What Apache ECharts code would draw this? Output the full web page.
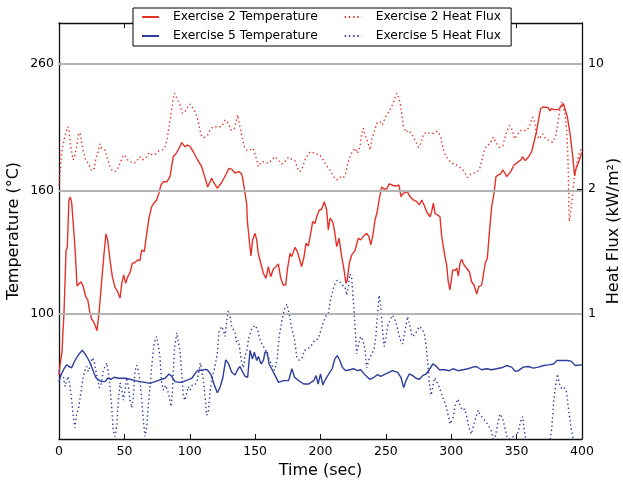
<!DOCTYPE html>
<html><head><meta charset="utf-8">
<script src="https://cdn.jsdelivr.net/npm/echarts@6/dist/echarts.min.js"></script>
<style>html,body{margin:0;padding:0;background:#fff}#c{width:623px;height:484px}</style>
</head><body><div id="c"></div>
<script>
// ---- data ----
const timeTicks = [0, 50, 100, 150, 200, 250, 300, 350, 400];
const tempTicks = [100, 160, 260];
const fluxTicks = [1, 2, 10];

const ex2TempTime = [0,1.1,2.3,3.1,3.8,5.4,6.3,7.6,8.6,9.7,10.7,12.2,13.8,15.3,16.8,18.6,20.4,22.0,23.5,25.0,26.5,27.5,29.1,30.8,32.7,34.2,35.2,35.9,37.2,39.0,40.8,42.8,44.9,46.7,48.0,49.5,51.0,52.5,54.3,56.1,58.1,60.2,61.9,63.3,65.2,67.1,68.8,70.9,72.9,74.7,76.5,78.0,79.8,82.6,84.9,87.4,89.3,91.2,93.8,96.4,98.4,100.2,102.7,105.3,109.1,112.2,113.7,115.0,116.8,118.5,121.1,124.4,127.5,130.0,132.1,134.6,137.7,139.7,140.7,141.9,143.6,144.0,145.5,146.8,148.1,149.9,151.2,152.4,154.3,156.3,158.3,160.1,161.9,163.9,166.0,167.7,169.6,171.5,173.4,174.6,176.7,178.0,180.5,182.3,183.8,185.6,187.4,188.9,190.7,192.5,194.0,195.8,197.1,199.1,200.9,202.9,204.7,206.0,207.3,209.3,210.6,212.4,214.2,216.2,218.0,219.5,220.5,222.0,223.9,226.4,228.9,230.7,232.7,235.3,237.1,238.4,239.9,241.7,243.4,245.0,246.8,248.6,250.6,252.6,255.7,258.3,260.0,261.6,263.3,266.4,268.4,271.0,273.6,275.6,277.4,279.2,281.2,282.4,283.8,285.0,286.3,287.6,289.3,291.4,292.7,295.2,296.5,297.7,299.0,301.1,302.9,304.2,305.4,306.7,308.0,309.8,311.8,313.8,315.6,317.4,319.5,321.0,323.3,324.5,326.0,327.6,329.1,330.9,332.7,334.2,336.0,337.8,339.4,341.1,342.4,345.5,348.0,350.5,353.1,354.6,356.4,358.9,361.5,362.5,365.1,368.3,370.2,374.1,375.4,376.7,378.5,381.9,383.7,385.8,387.0,388.8,390.9,393.0,394.3,395.3,397.3,399.9];
const ex2Temp = [79.2,83.2,86.5,94.1,100,127.7,128.7,154.6,156.4,153.0,153.0,129.3,111.3,111.0,113.1,111.0,106.8,105.5,100.9,98.0,97.1,95.9,93.8,101.5,113.9,124.2,124.8,135.8,132.7,122.9,115.3,110.7,108.9,106.2,112.4,116.1,112.4,115.1,117.1,121.4,121.7,122.9,122.6,127.7,126.9,136.1,144.2,150.7,153.0,154.6,159.0,163.7,165.8,165.8,169.0,182.4,184.3,187.2,192.5,189.5,190.8,189.5,185.9,181.3,175.6,166.9,162.5,162.7,168.0,165.0,161.7,165.3,170.1,174.5,173.9,171.4,172.3,170.8,166.9,160.6,151.7,143.2,132.7,124.8,132.7,136.1,132.7,126.1,121.4,116.8,114.6,119.8,115.3,118.6,119.8,121.1,114.6,111.7,111.7,118.3,126.1,124.5,129.0,126.9,123.7,119.8,124.5,131.0,129.7,136.1,142.3,141.4,145.0,148.8,149.2,153.6,148.8,137.9,144.2,142.3,137.9,129.3,133.6,124.5,118.3,112.4,113.9,121.4,125.3,127.4,133.6,132.7,134.4,136.1,134.4,130.2,134.4,143.2,147.8,155.6,162.5,161.2,161.2,164.4,163.4,163.1,163.7,156.6,158.6,159.6,156.6,154.6,153.6,151.7,154.6,151.7,147.8,148.8,145.0,147.8,152.7,146.9,146.0,145.0,134.4,124.5,120.6,113.1,109.6,118.3,118.0,119.1,115.6,121.4,123.3,120.6,119.1,117.5,113.1,111.7,107.9,111.0,111.7,111.0,121.4,123.7,136.1,150.7,158.6,169.0,170.1,170.8,173.4,171.2,169.0,172.3,176.7,178.3,180.1,182.4,179.7,182.0,185.9,185.7,200.3,219.3,220.6,220.1,217.3,219.3,218.4,218.4,220.6,223.5,222.0,212.3,199.0,181.9,169.5,173.9,178.4,185.4];

const ex5TempTime = [0,1.5,4.1,5.9,7.6,9.7,11.7,14.3,17.8,20.4,22.4,24.5,26.2,28.1,30.1,32.7,35.2,37.2,39.8,42.3,45.4,48.0,51.0,54.3,58.1,62.0,65.8,69.6,73.4,77.2,81.1,84.1,86.2,88.7,91.8,95.1,98.4,101.5,105.3,107.1,109.1,111.7,113.7,116.3,118.8,121.1,123.1,125.2,127.5,129.5,132.1,134.6,136.7,138.4,140.2,142.3,144.3,146.1,147.9,149.4,151.2,152.5,154.6,156.3,157.6,159.2,160.7,164.1,167.9,171.8,175.6,178.1,180.2,183.3,187.2,191.0,194.8,196.6,198.2,200.0,201.8,203.8,206.4,208.9,211.0,212.8,214.8,216.7,219.2,222.3,225.6,228.1,230.7,234.6,237.6,241.0,243.6,246.1,249.9,255.1,259.0,261.5,263.6,265.4,267.9,270.5,273.0,275.6,278.2,280.8,283.3,285.9,288.0,291.0,294.8,298.7,301.3,305.2,309.0,312.8,316.6,319.2,323.1,327.0,330.8,334.6,338.4,342.3,346.2,348.8,351.3,355.1,359.0,362.8,366.7,370.6,374.4,378.2,380.8,384.6,388.5,391.6,394.9,400];
const ex5Temp = [77.2,79.2,81.3,82.3,81.8,81.4,83.3,85.2,87.1,85.5,84.1,82.3,80.3,78.5,77.7,77.2,77.2,78.2,77.9,78.5,78.2,78.2,78.2,77.9,77.5,77.2,77.0,76.7,77.2,77.7,78.2,79.5,78.8,77.2,77.0,77.2,77.7,78.2,80.3,80.7,80.5,80.9,80.7,79.2,76.2,74.0,75.5,78.2,83.9,82.8,80.0,79.2,80.9,81.8,80.3,78.8,78.5,87.0,84.2,86.4,83.7,85.0,82.6,83.7,86.4,86.4,82.6,80.0,77.0,77.5,77.5,81.1,78.5,77.5,76.5,76.5,77.5,79.0,76.5,79.5,76.2,77.9,79.5,81.1,84.2,85.3,83.7,81.6,80.5,80.8,81.1,80.5,80.8,79.0,77.9,78.5,79.3,78.8,79.5,80.5,80.0,78.5,75.5,77.5,79.5,79.0,78.2,77.9,79.0,79.5,80.8,82.6,82.1,80.8,80.8,80.5,81.1,80.5,80.8,81.1,81.6,81.8,80.8,81.1,80.8,81.1,81.4,82.1,81.6,80.3,80.5,81.6,81.8,81.3,81.6,82.1,82.3,82.6,83.7,83.7,83.7,83.5,82.1,82.3];

const ex2FluxTime = [0,0.8,2.1,3.3,5.1,6.7,7.6,8.4,9.7,10.9,12.2,13.5,14.8,16.1,17.4,18.6,20.4,22.4,25.0,27.0,28.1,29.6,31.4,32.7,35.2,37.2,39.0,40.8,42.8,44.9,46.7,48.4,50.5,52.5,55.1,57.6,60.2,61.9,63.7,66.3,68.8,71.4,74.0,76.5,79.0,81.1,82.8,84.4,85.7,87.0,88.2,89.3,90.8,92.5,94.3,96.4,98.4,100.2,101.9,104.0,106.1,107.8,109.1,111.1,113.7,115.5,118.0,121.4,124.4,127.0,129.5,131.5,134.1,136.7,138.4,140.2,141.7,143.6,146.1,148.6,150.4,152.4,155.0,157.6,160.1,162.7,165.2,167.7,170.3,172.8,175.4,178.0,180.5,182.6,184.3,186.1,188.1,190.2,192.0,194.5,197.1,199.6,202.1,204.7,207.3,209.8,212.4,214.9,217.4,219.3,220.8,222.6,224.3,226.4,228.1,230.2,231.5,232.7,234.0,236.1,237.9,239.2,241.1,243.0,245.5,247.3,248.8,250.6,252.4,254.5,256.4,258.3,259.5,260.8,262.1,263.4,265.2,267.3,269.8,272.4,275.0,277.1,278.9,281.5,284.1,286.6,289.2,291.8,293.5,295.6,298.2,300.7,303.3,306.4,309.7,312.3,314.9,318.2,321.4,323.4,325.2,327.0,329.6,332.2,334.2,336.8,339.4,341.9,344.5,346.6,348.4,350.2,352.8,355.3,357.9,360.0,362.1,363.8,365.1,367.2,369.8,372.3,374.9,377.5,380.0,381.9,383.2,384.5,385.8,387.0,388.3,389.3,390.3,392.0,393.9,396.2,398.1,400];
const ex2Flux = [2.11,2.49,3.23,3.60,4.10,4.46,4.28,3.68,3.23,2.91,3.10,3.45,4.01,4.13,3.60,3.23,2.91,2.78,2.53,2.61,2.93,3.17,3.57,3.38,3.30,2.93,2.67,2.53,2.50,2.61,2.78,3.01,3.10,2.91,2.84,2.78,2.91,3.03,2.91,2.97,3.19,3.10,3.14,3.27,3.30,3.45,3.84,4.56,5.30,6.15,6.86,6.91,6.29,5.90,5.30,5.41,5.73,5.97,5.73,5.41,4.91,4.28,3.92,3.89,4.01,4.28,4.46,4.46,4.46,4.86,4.66,4.28,4.31,5.19,4.46,3.84,3.45,3.30,3.30,3.38,3.06,2.67,2.84,2.84,2.78,2.91,3.03,2.91,2.76,2.84,3.01,2.93,2.88,2.61,2.50,2.61,2.91,3.10,3.23,3.19,3.14,3.10,2.91,2.69,2.55,2.36,2.25,2.33,2.30,2.45,2.78,3.03,3.23,3.38,3.17,3.45,4.10,4.37,4.01,3.68,3.30,3.76,4.18,4.66,4.76,4.56,4.86,5.19,5.41,5.77,6.29,6.86,6.56,6.13,5.29,4.53,4.16,4.25,4.07,3.73,3.42,3.65,4.07,4.16,4.07,4.10,4.21,3.98,3.42,3.07,2.90,2.78,2.75,2.66,2.52,2.32,2.42,2.47,2.55,2.88,3.27,3.49,3.57,3.90,3.65,3.42,3.49,4.07,4.53,4.29,3.81,3.98,4.25,4.25,4.25,4.53,5.05,4.73,4.07,3.81,4.07,3.81,3.73,3.65,3.98,4.84,5.63,6.14,6.01,5.27,4.25,2.91,1.74,1.87,2.25,2.83,3.22,3.39];

const ex5FluxTime = [0,1.5,3.3,4.6,5.9,7.1,8.4,9.7,10.9,12.2,13.5,14.8,16.1,17.4,18.6,19.9,21.2,22.4,23.7,25.5,27.0,28.1,29.6,30.8,32.1,33.9,35.2,36.5,37.7,39.0,40.3,41.5,42.8,44.1,45.4,46.7,48.0,49.2,50.5,51.8,53.0,54.3,55.6,56.8,58.1,59.4,60.6,61.9,63.3,64.5,65.8,67.1,68.3,69.6,70.9,72.1,73.4,74.7,75.9,77.2,78.5,79.8,81.6,83.6,85.7,86.7,88.2,90.0,91.2,92.5,93.8,95.1,96.4,97.7,98.9,100.2,101.9,103.5,105.3,107.1,108.1,109.1,110.4,111.7,113.0,114.2,115.5,116.8,118.0,119.3,121.1,122.4,124.4,125.7,127.0,128.3,129.5,130.8,132.1,133.3,134.6,135.9,137.1,138.4,139.7,141.0,142.3,143.6,144.9,147.4,150.0,152.0,153.8,155.6,157.6,160.2,162.8,164.8,166.7,168.4,170.5,172.5,174.3,176.1,178.1,180.2,181.9,183.8,185.9,187.9,190.4,193.0,195.6,198.2,200.0,201.8,203.8,205.9,207.6,209.5,211.0,212.8,214.6,216.7,218.7,220.0,221.3,222.3,223.8,224.9,226.4,227.7,228.9,230.7,232.5,234.1,235.3,237.2,239.2,241.0,242.3,243.6,244.8,246.1,247.4,248.7,249.9,251.2,253.1,255.1,257.1,259.0,260.7,262.8,264.9,266.6,268.5,270.0,271.7,273.6,275.6,277.7,279.5,280.8,282.1,283.3,284.6,285.9,287.2,288.4,289.7,291.0,293.6,295.6,297.4,299.2,301.3,303.3,305.2,306.4,308.5,310.3,312.0,313.6,315.4,316.6,318.7,320.5,321.8,323.8,326.4,328.9,330.8,332.5,334.1,335.9,337.2,339.2,341.0,342.8,344.9,347.5,349.5,351.3,353.0,354.6,355.6,357.2,364.1,371.7,375.5,376.9,378.2,379.5,381.3,382.8,384.6,386.4,388.0,389.8,391.6,393.1,394.9,400];
const ex5Flux = [0.55,0.51,0.50,0.42,0.47,0.50,0.42,0.31,0.18,0.09,0.21,0.23,0.33,0.42,0.50,0.55,0.58,0.54,0.58,0.65,0.62,0.55,0.47,0.41,0.43,0.55,0.58,0.61,0.54,0.42,0.26,0.07,0.02,0.10,0.31,0.45,0.39,0.31,0.39,0.49,0.42,0.31,0.25,0.33,0.54,0.59,0.55,0.47,0.31,0.15,0.02,0.10,0.26,0.42,0.58,0.71,0.79,0.82,0.75,0.66,0.45,0.39,0.43,0.37,0.26,0.37,0.71,0.85,0.86,0.71,0.53,0.34,0.31,0.37,0.42,0.39,0.43,0.43,0.45,0.54,0.61,0.55,0.47,0.34,0.19,0.22,0.37,0.47,0.53,0.58,0.69,0.86,0.90,0.87,0.82,0.95,1.03,0.98,0.90,0.91,0.85,0.77,0.79,0.71,0.61,0.57,0.67,0.70,0.80,0.88,0.91,0.87,0.79,0.75,0.72,0.65,0.59,0.55,0.63,0.82,0.95,1.04,1.08,1.00,0.88,0.79,0.65,0.63,0.65,0.71,0.72,0.75,0.79,0.80,0.86,0.92,0.98,1.00,1.11,1.19,1.24,1.27,1.26,1.23,1.22,1.15,1.22,1.32,1.30,1.14,0.90,0.68,0.75,0.82,0.79,0.71,0.57,0.64,0.68,0.72,0.82,1.00,1.15,1.06,0.88,0.74,0.79,0.90,0.95,0.99,0.95,0.88,0.80,0.76,0.88,0.98,0.90,0.82,0.83,0.86,0.90,0.88,0.84,0.74,0.60,0.44,0.35,0.36,0.49,0.47,0.47,0.41,0.33,0.28,0.20,0.12,0.17,0.28,0.32,0.28,0.23,0.24,0.17,0.09,0.04,0.09,0.17,0.23,0.20,0.17,0.14,0.10,0.06,-0.02,0.04,0.14,0.20,0.17,0.09,0.01,0.00,0.02,0.01,0.06,0.14,0.18,0.09,-0.02,-0.10,-0.10,-0.02,0.09,0.28,0.41,0.52,0.44,0.40,0.41,0.39,0.23,0.09,0.01,-0.02,-0.10];

// ---- scales ----
// Right axis: linear from 0 to 2 kW/m^2, logarithmic (factor 5 per unit) above 2.
function fluxToAxis(q) { return q <= 2 ? q : 2 + Math.log(q / 2) / Math.log(5); }
function axisToFlux(v) { return v <= 2 ? v : 2 * Math.pow(5, v - 2); }
const TEMP_MIN = 62.0, TEMP_MAX = 304.1, FLUX_AXIS_MAX = 3.328;

const FONT = 'DejaVu Sans';
const RED = '#e3322a', BLUE = '#2c3d9c';
const pairs = (ts, vs, f) => ts.map((t, i) => [t, f ? f(vs[i]) : vs[i]]);

const chart = echarts.init(document.getElementById('c'), null, { renderer: 'canvas' });
const axisLineStyle = { color: '#111', width: 1.3 };
const legendText = { fontFamily: FONT, fontSize: 12.3, color: '#000', padding: [0, 0, 0, 9] };
const legendCommon = { orient: 'horizontal', itemGap: 26, itemWidth: 17, itemHeight: 14,
  textStyle: legendText, selectedMode: false, itemStyle: { opacity: 0, borderWidth: 0 } };

chart.setOption({
  animation: false,
  backgroundColor: '#fff',
  grid: { left: 59, right: 41, top: 23, bottom: 45, containLabel: false, outerBoundsMode: 'none' },
  legend: [
    Object.assign({ data: ['Exercise 2 Temperature', 'Exercise 2 Heat Flux'], left: 133, top: 8,
      padding: [3, 10, 23, 8], backgroundColor: '#fff', borderColor: '#000', borderWidth: 1,
      borderRadius: 0, z: 10 }, legendCommon),
    Object.assign({ data: ['Exercise 5 Temperature', 'Exercise 5 Heat Flux'], left: 133, top: 30,
      padding: [0, 10, 0, 8], z: 11 }, legendCommon)
  ],
  xAxis: [
    { type: 'value', min: 0, max: 400, interval: 50, position: 'bottom',
      axisLine: { show: true, onZero: false, lineStyle: axisLineStyle },
      axisTick: { show: true, inside: true, length: 5, lineStyle: { color: '#111' } },
      axisLabel: { color: '#000', fontFamily: FONT, fontSize: 12.5, margin: 6,
                   formatter: v => timeTicks.includes(v) ? String(v) : '' },
      splitLine: { show: false },
      name: 'Time (sec)', nameLocation: 'middle', nameGap: 24, nameMoveOverlap: false,
      nameTextStyle: { fontFamily: FONT, fontSize: 16, color: '#000' } },
    { type: 'value', min: 0, max: 400, interval: 50, position: 'top',
      axisLine: { show: true, onZero: false, lineStyle: axisLineStyle },
      axisTick: { show: true, inside: true, length: 5, lineStyle: { color: '#111' } },
      axisLabel: { show: false }, splitLine: { show: false } }
  ],
  yAxis: [
    { type: 'log', min: TEMP_MIN, max: TEMP_MAX, position: 'left',
      axisLine: { show: true, onZero: false, lineStyle: axisLineStyle },
      axisTick: { show: true, inside: true, length: 5, customValues: tempTicks, lineStyle: { color: '#111' } },
      axisLabel: { customValues: tempTicks, color: '#000', fontFamily: FONT, fontSize: 12.5, margin: 5 },
      splitLine: { show: false }, minorTick: { show: false },
      name: 'Temperature (°C)', nameLocation: 'middle', nameRotate: 90, nameGap: 37, nameMoveOverlap: false,
      nameTextStyle: { fontFamily: FONT, fontSize: 16, color: '#000' } },
    { type: 'value', min: 0, max: FLUX_AXIS_MAX, position: 'right',
      axisLine: { show: true, onZero: false, lineStyle: axisLineStyle },
      axisTick: { show: true, inside: true, length: 5, customValues: fluxTicks.map(fluxToAxis), lineStyle: { color: '#111' } },
      axisLabel: { customValues: fluxTicks.map(fluxToAxis), color: '#000', fontFamily: FONT, fontSize: 12.5, margin: 6,
                   formatter: v => String(Math.round(axisToFlux(v))) },
      splitLine: { show: false },
      name: 'Heat Flux (kW/m²)', nameLocation: 'middle', nameRotate: 90, nameGap: 24, nameMoveOverlap: false,
      nameTextStyle: { fontFamily: FONT, fontSize: 16, color: '#000' } }
  ],
  series: [
    { name: 'Exercise 2 Temperature', type: 'line', xAxisIndex: 0, yAxisIndex: 0,
      data: pairs(ex2TempTime, ex2Temp), symbol: 'none', showSymbol: false,
      lineStyle: { color: RED, width: 1.4 }, itemStyle: { color: RED },
      markLine: { silent: true, symbol: 'none', label: { show: false }, animation: false,
                  lineStyle: { color: '#b4b4b4', width: 2, type: 'solid' },
                  data: tempTicks.map(v => ({ yAxis: v })) } },
    { name: 'Exercise 5 Temperature', type: 'line', xAxisIndex: 0, yAxisIndex: 0,
      data: pairs(ex5TempTime, ex5Temp), symbol: 'none', showSymbol: false,
      lineStyle: { color: BLUE, width: 1.4 }, itemStyle: { color: BLUE } },
    { name: 'Exercise 2 Heat Flux', type: 'line', xAxisIndex: 0, yAxisIndex: 1,
      data: pairs(ex2FluxTime, ex2Flux, fluxToAxis), symbol: 'none', showSymbol: false,
      lineStyle: { color: RED, width: 1.4, type: [1.4, 2.8] }, itemStyle: { color: RED } },
    { name: 'Exercise 5 Heat Flux', type: 'line', xAxisIndex: 0, yAxisIndex: 1,
      data: pairs(ex5FluxTime, ex5Flux, fluxToAxis), symbol: 'none', showSymbol: false,
      lineStyle: { color: BLUE, width: 1.4, type: [1.4, 2.8] }, itemStyle: { color: BLUE } }
  ]
});
</script>
</body></html>
